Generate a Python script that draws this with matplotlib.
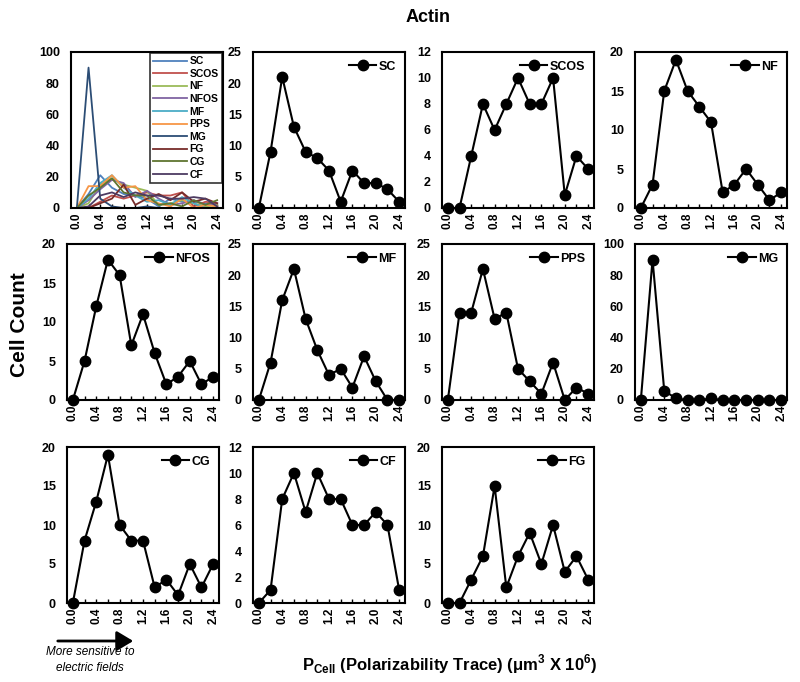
import numpy as np
import matplotlib.pyplot as plt

plt.rcParams['font.family'] = ['Liberation Sans', 'DejaVu Sans']
plt.rcParams['font.weight'] = 'bold'
plt.rcParams['mathtext.fontset'] = 'custom'
plt.rcParams['mathtext.rm'] = 'Liberation Sans'
plt.rcParams['mathtext.bf'] = 'Liberation Sans:bold'

# polarizability bins
x = [0.0, 0.2, 0.4, 0.6, 0.8, 1.0, 1.2, 1.4, 1.6, 1.8, 2.0, 2.2, 2.4]

SC = [0, 9, 21, 13, 9, 8, 6, 1, 6, 4, 4, 3, 1]
SCOS = [0, 0, 4, 8, 6, 8, 10, 8, 8, 10, 1, 4, 3]
NF = [0, 3, 15, 19, 15, 13, 11, 2, 3, 5, 3, 1, 2]
NFOS = [0, 5, 12, 18, 16, 7, 11, 6, 2, 3, 5, 2, 3]
MF = [0, 6, 16, 21, 13, 8, 4, 5, 2, 7, 3, 0, 0]
PPS = [0, 14, 14, 21, 13, 14, 5, 3, 1, 6, 0, 2, 1]
MG = [0, 90, 6, 1, 0, 0, 1, 0, 0, 0, 0, 0, 0]
FG = [0, 0, 3, 6, 15, 2, 6, 9, 5, 10, 4, 6, 3]
CG = [0, 8, 13, 19, 10, 8, 8, 2, 3, 1, 5, 2, 5]
CF = [0, 1, 8, 10, 7, 10, 8, 8, 6, 6, 7, 6, 1]

names = ['SC', 'SCOS', 'NF', 'NFOS', 'MF', 'PPS', 'MG', 'FG', 'CG', 'CF']
series = [SC, SCOS, NF, NFOS, MF, PPS, MG, FG, CG, CF]
colors = ['#4F81BD', '#C0504D', '#9BBB59', '#8064A2', '#4BACC6',
          '#F79646', '#2C4D75', '#772C2A', '#5F7530', '#4D3B62']

# panel order, y max and y step
panels = [('SC', 25, 5), ('SCOS', 12, 2), ('NF', 20, 5),
          ('NFOS', 20, 5), ('MF', 25, 5), ('PPS', 25, 5), ('MG', 100, 20),
          ('CG', 20, 5), ('CF', 12, 2), ('FG', 20, 5)]

W, H = 800, 682
fig = plt.figure(figsize=(W / 100, H / 100), dpi=100)

lefts = [71, 253, 442, 635]
tops = [52, 244, 447]
pw, ph = 152, 156


def make_ax(row, col):
    l = lefts[col]
    if row > 0 and col == 0:
        l = 67
    ax = fig.add_axes([l / W, 1 - (tops[row] + ph) / H, pw / W, ph / H])
    ax.set_xlim(-0.1, 2.5)
    ax.set_xticks(x, minor=True)
    ax.set_xticks(x[::2])
    ax.set_xticklabels(['%.1f' % v for v in x[::2]], rotation=90,
                       fontsize=8.5, fontweight='bold')
    ax.tick_params(axis='x', which='both', direction='in', length=3,
                   width=1)
    ax.tick_params(axis='y', length=0, labelsize=9, pad=8)
    for s in ax.spines.values():
        s.set_linewidth(1.5)
    return ax


# overview panel
ax = make_ax(0, 0)
for name, ys, c in zip(names, series, colors):
    ax.plot(x, ys, color=c, lw=1.3, label=name)
ax.set_ylim(0, 100)
ax.set_yticks(range(0, 101, 20))
for lab in ax.get_yticklabels():
    lab.set_fontweight('bold')
leg = ax.legend(loc='upper right', fontsize=7.5, frameon=True, fancybox=False,
                handlelength=3.2, labelspacing=0.25, borderpad=0.3,
                handletextpad=0.3, borderaxespad=0.1)
leg.get_frame().set_edgecolor('black')
leg.get_frame().set_linewidth(1.2)
for t in leg.get_texts():
    t.set_fontweight('bold')

data = dict(zip(names, series))
pos = [(0, 1), (0, 2), (0, 3), (1, 0), (1, 1), (1, 2), (1, 3),
       (2, 0), (2, 1), (2, 2)]
for (name, ymax, step), (r, c) in zip(panels, pos):
    ax = make_ax(r, c)
    ax.plot(x, data[name], color='black', lw=1.5, marker='o', ms=7.5,
            clip_on=False, zorder=3, label=name)
    ax.set_ylim(0, ymax)
    ax.set_yticks(range(0, ymax + 1, step))
    for lab in ax.get_yticklabels():
        lab.set_fontweight('bold')
    leg = ax.legend(loc='upper right', fontsize=9, frameon=False,
                    handlelength=2.2, handletextpad=0.2, borderaxespad=0.3)
    for t in leg.get_texts():
        t.set_fontweight('bold')

fig.text(0.535, 1 - 18 / H, 'Actin', ha='center', va='center',
         fontsize=13, fontweight='bold')
fig.text(20 / W, 1 - 325 / H, 'Cell Count', ha='center', va='center',
         rotation=90, fontsize=15, fontweight='bold')
fig.text(450 / W, 1 - 664 / H,
         r'P$_{\mathbf{Cell}}$ (Polarizability Trace) ($\mathbf{\mu}$m$^{\mathbf{3}}$ X 10$^{\mathbf{6}}$)',
         ha='center', va='center', fontsize=12, fontweight='bold')

fig.add_artist(plt.matplotlib.patches.FancyArrowPatch(
    (55 / W, 1 - 641 / H), (136 / W, 1 - 641 / H), transform=fig.transFigure,
    arrowstyle='-|>,head_length=10,head_width=6', lw=2, color='black',
    mutation_scale=1))
fig.text(90 / W, 1 - 660 / H, 'More sensitive to\nelectric fields',
         ha='center', va='center', fontsize=8.5, style='italic',
         fontweight='normal', linespacing=1.4)

fig.savefig('out.png', dpi=100)
